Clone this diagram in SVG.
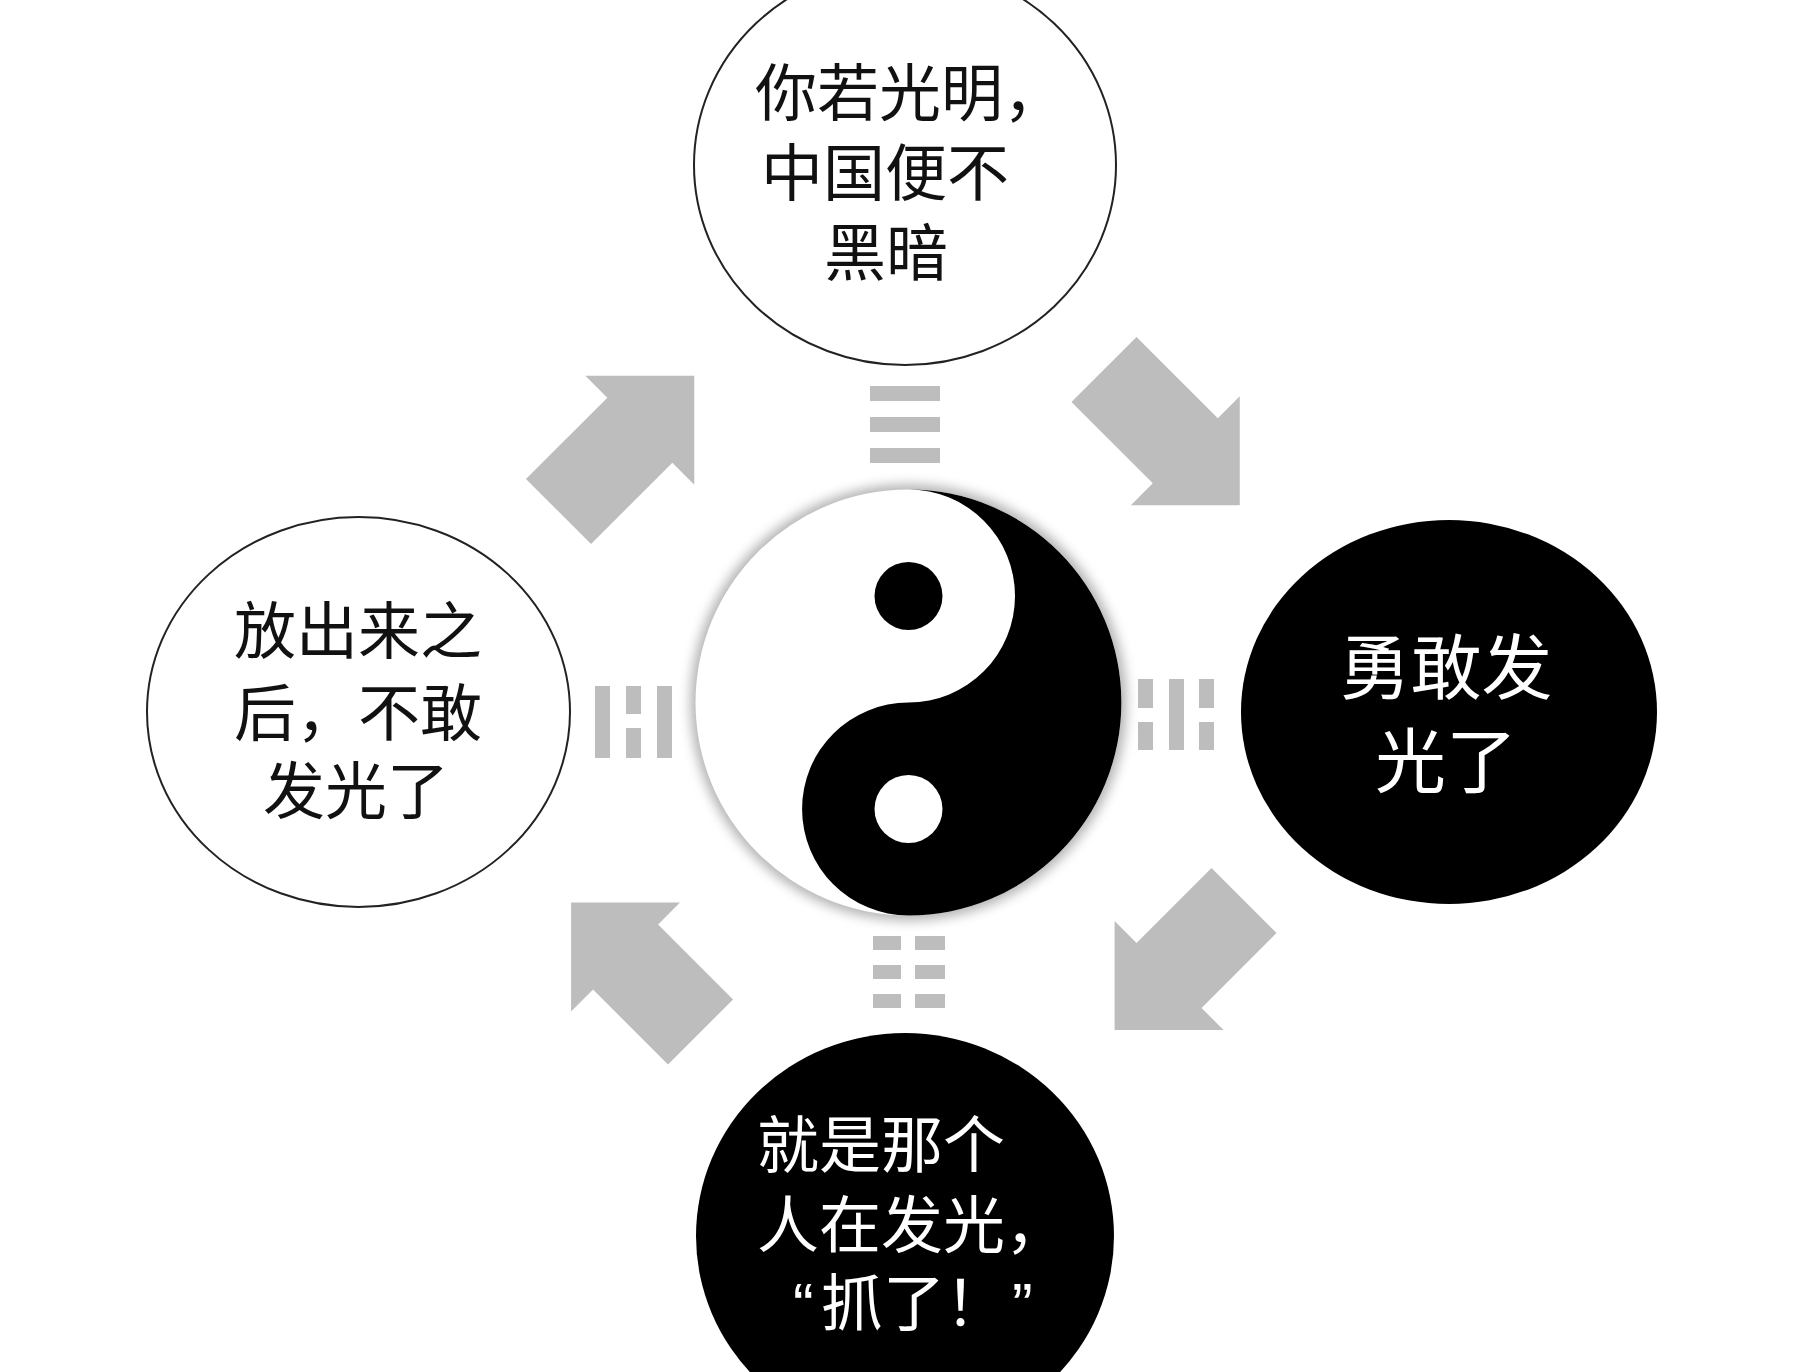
<svg xmlns="http://www.w3.org/2000/svg" width="1820" height="1372" viewBox="0 0 1820 1372">
  <style>
    .txt { font-family: "Liberation Sans", "Noto Sans CJK SC", sans-serif; font-size: 62px; }
    .dark { fill: #111111; }
    .light { fill: #ffffff; }
    .big { font-size: 71px; }
    .bar { fill: #bdbdbd; }
    .arrow { fill: #bdbdbd; }
    .open { fill: #ffffff; stroke: #222222; stroke-width: 2; }
    .solid { fill: #000000; }
  </style>
  <defs>
    <path id="arrowLong" d="M0,-46 L115,-46 L115,-77 L192,0 L115,77 L115,46 L0,46 Z"/>
    <path id="arrowShort" d="M0,-46 L106,-46 L106,-77 L183,0 L106,77 L106,46 L0,46 Z"/>
    <filter id="glow" x="-20%" y="-20%" width="140%" height="140%">
      <feGaussianBlur stdDeviation="6"/>
    </filter>
  </defs>
  <rect x="0" y="0" width="1820" height="1372" fill="#ffffff"/>

  <g id="connectors">
    <use href="#arrowLong" class="arrow" transform="translate(558.5,511.5) rotate(-45)"/>
    <use href="#arrowLong" class="arrow" transform="translate(1104,369.5) rotate(45)"/>
    <use href="#arrowShort" class="arrow" transform="translate(1244,900.5) rotate(135)"/>
    <use href="#arrowShort" class="arrow" transform="translate(700.5,1032) rotate(-135)"/>
  </g>

  <g id="trigram-top">
    <rect class="bar" x="870" y="386" width="70" height="15"/>
    <rect class="bar" x="870" y="417" width="70" height="15"/>
    <rect class="bar" x="870" y="448" width="70" height="15"/>
  </g>
  <g id="trigram-left">
    <rect class="bar" x="595" y="686" width="15" height="72"/>
    <rect class="bar" x="626" y="686" width="15" height="28"/>
    <rect class="bar" x="626" y="728" width="15" height="30"/>
    <rect class="bar" x="657" y="686" width="15" height="72"/>
  </g>
  <g id="trigram-right">
    <rect class="bar" x="1138" y="679" width="15" height="29"/>
    <rect class="bar" x="1138" y="722" width="15" height="28"/>
    <rect class="bar" x="1169" y="679" width="15" height="71"/>
    <rect class="bar" x="1199" y="679" width="15" height="29"/>
    <rect class="bar" x="1199" y="722" width="15" height="28"/>
  </g>
  <g id="trigram-bottom">
    <rect class="bar" x="873" y="936" width="28" height="14"/>
    <rect class="bar" x="915" y="936" width="30" height="14"/>
    <rect class="bar" x="873" y="965" width="28" height="14"/>
    <rect class="bar" x="915" y="965" width="30" height="14"/>
    <rect class="bar" x="873" y="994" width="28" height="14"/>
    <rect class="bar" x="915" y="994" width="30" height="14"/>
  </g>

  <g id="node-center">
    <circle cx="908.5" cy="702.5" r="218" fill="#808080" opacity="0.6" filter="url(#glow)"/>
    <circle cx="908.5" cy="702.5" r="213" fill="#ffffff"/>
    <path class="solid" d="M908.5,489.5 A213,213 0 0 1 908.5,915.5 A106.5,106.5 0 0 1 908.5,702.5 A106.5,106.5 0 0 0 908.5,489.5 Z"/>
    <circle cx="908.5" cy="596" r="34" fill="#000000"/>
    <circle cx="908.5" cy="809" r="34" fill="#ffffff"/>
  </g>

  <g id="node-top">
    <ellipse class="open" cx="905" cy="165" rx="211" ry="200"/>
    <text class="txt dark" x="755" y="116">你若光明，</text>
    <text class="txt dark" x="761" y="196">中国便不</text>
    <text class="txt dark" x="824" y="276">黑暗</text>
  </g>

  <g id="node-left">
    <ellipse class="open" cx="358.5" cy="712" rx="211.5" ry="195"/>
    <text class="txt dark" x="358" y="654" text-anchor="middle">放出来之</text>
    <text class="txt dark" x="358" y="736" text-anchor="middle">后，不敢</text>
    <text class="txt dark" x="356" y="814" text-anchor="middle">发光了</text>
  </g>

  <g id="node-right">
    <ellipse class="solid" cx="1449" cy="712" rx="208" ry="192"/>
    <text class="txt light big" x="1446" y="693" text-anchor="middle">勇敢发</text>
    <text class="txt light big" x="1446" y="787" text-anchor="middle">光了</text>
  </g>

  <g id="node-bottom">
    <ellipse class="solid" cx="905" cy="1236" rx="209" ry="203"/>
    <text class="txt light" x="757" y="1168">就是那个</text>
    <text class="txt light" x="757" y="1248">人在发光，</text>
    <text class="txt light" y="1326"><tspan x="793">“</tspan><tspan x="821">抓了！</tspan><tspan x="1012">”</tspan></text>
  </g>
</svg>
